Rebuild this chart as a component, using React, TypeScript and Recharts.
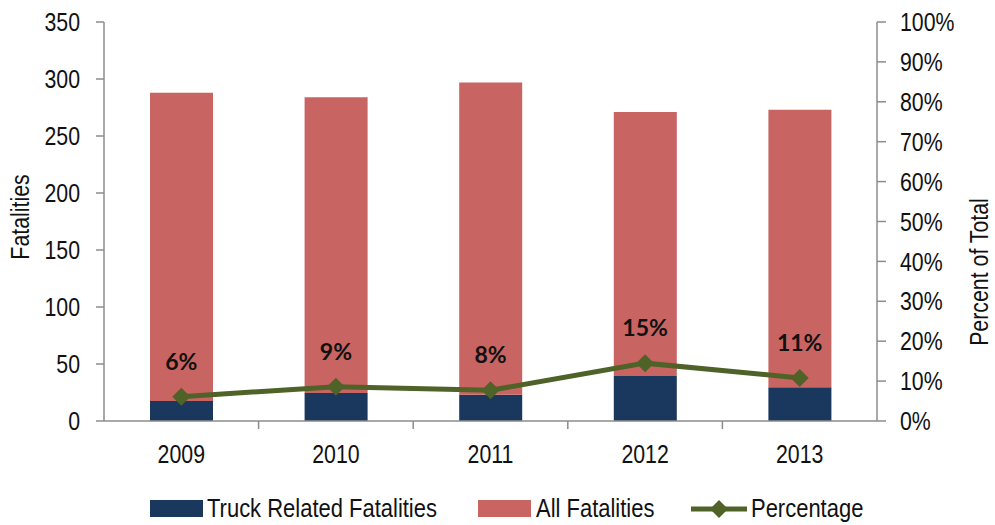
import { ComposedChart, Bar, Line, XAxis, YAxis, Legend, LabelList } from "recharts"

const years = ["2009", "2010", "2011", "2012", "2013"]
const allFatalities = [288, 284, 297, 271, 273]
const truckFatalities = [17.5, 24.5, 23, 39.5, 29.5]
const percentages = [6.1, 8.6, 7.7, 14.5, 10.8]
const leftTicks = [0, 50, 100, 150, 200, 250, 300, 350]
const rightTicks = [0, 10, 20, 30, 40, 50, 60, 70, 80, 90, 100]

// no Arial Narrow here, so squeeze Liberation Sans horizontally instead
const FONT = "'Liberation Sans', Arial, sans-serif"
const SQUEEZE = 0.82
const LABEL_FONT = "Lato, 'Open Sans', sans-serif"
const NAVY = "#1a385e"
const RED = "#c86462"
const GREEN = "#4f6228"
const AXIS = "#8c8c8c"
const INK = "#111"

const W = 995
const H = 525
const PLOT_LEFT = 104
const PLOT_RIGHT = 877
const PLOT_BOTTOM = 421
const HALF_BAND = (PLOT_RIGHT - PLOT_LEFT) / years.length / 2

const chartData = years.map((year, i) => ({
  year,
  truck: truckFatalities[i],
  rest: allFatalities[i] - truckFatalities[i],
  pct: percentages[i],
}))

const NarrowText = ({ x, y, anchor, rotate, children }: any) => (
  <text
    transform={`translate(${x},${y})${rotate ? " rotate(-90)" : ""} scale(${SQUEEZE},1)`}
    textAnchor={anchor}
    dy="0.35em"
    fontFamily={FONT}
    fontSize={26}
    fill={INK}
  >
    {children}
  </text>
)

const YearTick = (props: any) => {
  const { x, payload, index } = props
  return (
    <g>
      <NarrowText x={x} y={454} anchor="middle">{payload.value}</NarrowText>
      {index < years.length - 1 && (
        <line x1={x + HALF_BAND} x2={x + HALF_BAND} y1={PLOT_BOTTOM} y2={PLOT_BOTTOM + 8} stroke={AXIS} strokeWidth={1.5} />
      )}
    </g>
  )
}

const LeftTick = (props: any) => (
  <NarrowText x={props.x} y={props.y} anchor="end">{props.payload.value}</NarrowText>
)

const RightTick = (props: any) => (
  <NarrowText x={props.x} y={props.y} anchor="start">{`${props.payload.value}%`}</NarrowText>
)

const Diamond = (props: any) => {
  const { cx, cy } = props
  if (cx == null || cy == null) return null
  const r = 9
  return <path d={`M${cx},${cy - r} L${cx + r},${cy} L${cx},${cy + r} L${cx - r},${cy} Z`} fill={GREEN} />
}

const PctLabel = (props: any) => {
  const { x, y, value } = props
  return (
    <text x={x} y={y - 35} textAnchor="middle" dy="0.35em" fontFamily={LABEL_FONT} fontWeight={700} fontSize={23} fill={INK}>
      {`${Math.round(value)}%`}
    </text>
  )
}

const LegendContent = () => {
  const text = {
    position: "absolute" as const,
    top: 0,
    fontFamily: FONT,
    fontSize: 26,
    color: INK,
    lineHeight: "36px",
    whiteSpace: "nowrap" as const,
    transform: "scaleX(0.845)",
    transformOrigin: "left center",
  }
  return (
    <div style={{ position: "relative", width: W, height: 36 }}>
      <div style={{ position: "absolute", left: 150, top: 10, width: 53, height: 17, background: NAVY }} />
      <span style={{ ...text, left: 207 }}>Truck Related Fatalities</span>
      <div style={{ position: "absolute", left: 478, top: 10, width: 53, height: 17, background: RED }} />
      <span style={{ ...text, left: 536 }}>All Fatalities</span>
      <svg style={{ position: "absolute", left: 691, top: 8 }} width={56} height={22}>
        <line x1={0} x2={56} y1={11} y2={11} stroke={GREEN} strokeWidth={5} />
        <path d="M28,2 L37,11 L28,20 L19,11 Z" fill={GREEN} />
      </svg>
      <span style={{ ...text, left: 751 }}>Percentage</span>
    </div>
  )
}

export default function App() {
  return (
    <div style={{ position: "absolute", left: 0, top: 0, width: W, height: H, background: "#fff" }}>
      <ComposedChart width={W} height={H} data={chartData} margin={{ top: 22, right: 0, bottom: 8, left: 0 }}>
        <XAxis
          dataKey="year"
          xAxisId="x"
          height={60}
          tickLine={false}
          axisLine={{ stroke: AXIS, strokeWidth: 1.5 }}
          tick={<YearTick />}
          interval={0}
        />
        <YAxis
          yAxisId="left"
          width={104}
          domain={[0, 350]}
          ticks={leftTicks}
          interval={0}
          tickSize={8}
          tickMargin={16}
          axisLine={{ stroke: AXIS, strokeWidth: 1.5 }}
          tickLine={{ stroke: AXIS, strokeWidth: 1.5 }}
          tick={<LeftTick />}
          label={{
            content: () => <NarrowText x={20} y={217} anchor="middle" rotate>Fatalities</NarrowText>,
          }}
        />
        <YAxis
          yAxisId="right"
          orientation="right"
          width={118}
          domain={[0, 100]}
          ticks={rightTicks}
          interval={0}
          tickSize={9}
          tickMargin={14}
          axisLine={{ stroke: AXIS, strokeWidth: 1.5 }}
          tickLine={{ stroke: AXIS, strokeWidth: 1.5 }}
          tick={<RightTick />}
          label={{
            content: () => <NarrowText x={979} y={272} anchor="middle" rotate>Percent of Total</NarrowText>,
          }}
        />
        <Legend verticalAlign="bottom" content={<LegendContent />} wrapperStyle={{ top: 490, left: 0, width: W, height: 36 }} />
        <Bar xAxisId="x" yAxisId="left" dataKey="truck" name="Truck Related Fatalities" stackId="f" fill={NAVY} barSize={63} isAnimationActive={false} />
        <Bar xAxisId="x" yAxisId="left" dataKey="rest" name="All Fatalities" stackId="f" fill={RED} barSize={63} isAnimationActive={false} />
        <Line
          xAxisId="x"
          yAxisId="right"
          dataKey="pct"
          name="Percentage"
          stroke={GREEN}
          strokeWidth={5}
          dot={<Diamond />}
          activeDot={false}
          isAnimationActive={false}
        >
          <LabelList dataKey="pct" content={<PctLabel />} />
        </Line>
      </ComposedChart>
    </div>
  )
}
